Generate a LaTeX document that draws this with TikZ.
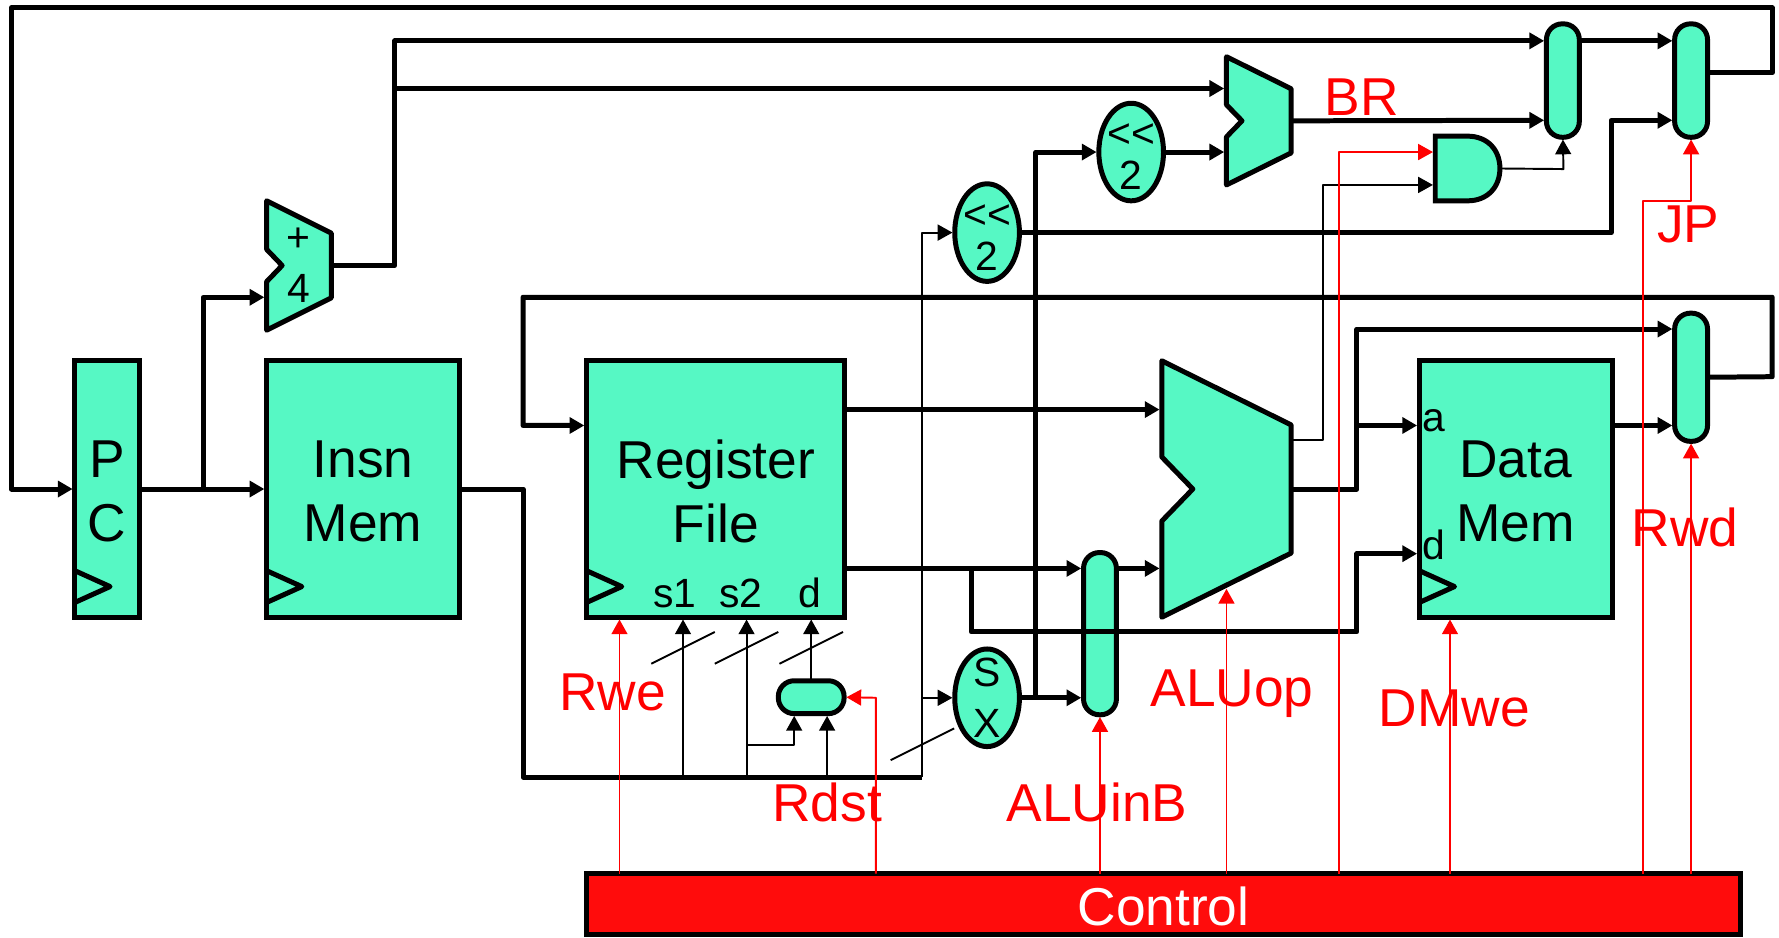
\documentclass[tikz,border=0pt]{standalone}
\usepackage{xcolor}
\usepackage{fontspec}
\setmainfont{Liberation Sans}
\usetikzlibrary{arrows.meta, calc, shapes.geometric}
\definecolor{blockgreen}{HTML}{56F8C4}
\definecolor{ctrlred}{HTML}{FF0C0C}

\newcommand{\clocktick}[1]{\draw [outline, fill=none] (#1.south west) ++(0,-41) -- ++(31,14) -- ++(-31,14);}
\newcommand{\adderoutline}[1]{\draw [outline] (#1.north west) -- ($(#1.north east)!.25!(#1.south east)$) -- ($(#1.north east)!.75!(#1.south east)$) -- (#1.south west) -- ($(#1.north west)!.625!(#1.south west)$) -- ($(#1.west)!.24!(#1.east)$) -- ($(#1.north west)!.375!(#1.south west)$) -- cycle;}

\begin{document}
\begin{tikzpicture}[x=0.5pt, y=-0.5pt, >={Triangle[length=6.5pt,width=7pt]},
    outline/.style={line width=2.2pt, line join=round, fill=blockgreen},
    block/.style={draw, rectangle, outline, line join=miter, inner sep=0pt, outer sep=0pt},
    mux/.style={block, rounded corners=7pt},
    oval/.style={draw, ellipse, outline, inner sep=0pt, outer sep=0pt, minimum width=28.5pt, minimum height=43pt},
    holder/.style={rectangle, inner sep=0pt, outer sep=0pt},
    big/.style={inner sep=0pt, align=center, font=\fontsize{23.5}{28}\selectfont},
    small/.style={inner sep=0pt, align=center, font=\fontsize{18}{22.5}\selectfont},
    pin/.style={small, anchor=base},
    signal/.style={big, anchor=base, text=red},
    bus/.style={line width=2.2pt, line join=round},
    wire/.style={line width=0.85pt, line join=round},
    ctrl/.style={line width=0.85pt, draw=red, line join=round},
    into/.style={->, shorten >=1pt},
]
    \useasboundingbox (0,0) rectangle (1568,826);

    \node [block, minimum width=28.5pt, minimum height=113pt] (pc) at (94.5,431) {};
    \node [block, minimum width=85pt, minimum height=113pt] (imem) at (320,431) {};
    \node [block, minimum width=113.5pt, minimum height=113pt] (regfile) at (630.5,431) {};
    \node [block, minimum width=85pt, minimum height=113pt] (dmem) at (1336,431) {};
    \node [block, fill=ctrlred, minimum width=508.5pt, minimum height=27pt] (control) at (1025.5,797) {};
    \clocktick{pc}
    \clocktick{imem}
    \clocktick{regfile}
    \clocktick{dmem}
    \node [big] (pctext) at (94.5,433) {P\\C};
    \node [big] (imemtext) at (320,433) {Insn\\Mem};
    \node [big] (regfiletext) at (631,433) {Register\\File};
    \node [big] (dmemtext) at (1336,433) {Data\\Mem};
    \node [big, text=white] (controltext) at (1025.5,799) {Control};

    \node [holder, minimum width=28.5pt, minimum height=57pt] (adder) at (263.5,234) {};
    \node [holder, minimum width=28.5pt, minimum height=56.5pt] (bradder) at (1109.5,106.5) {};
    \node [holder, minimum width=57pt, minimum height=113pt] (alu) at (1081,431) {};
    \adderoutline{adder}
    \adderoutline{bradder}
    \adderoutline{alu}
    \node [small] (addertext) at (263,234) {+\\4};

    \node [oval] (jpshift) at (870,205) {};
    \node [oval] (brshift) at (997,134) {};
    \node [oval] (sx) at (870,615) {};
    \node [small] (jpshifttext) at (870,209) {{<}{<}\\[-4pt]2};
    \node [small] (brshifttext) at (997,138) {{<}{<}\\[-4pt]2};
    \node [small] (sxtext) at (870,615) {S\\X};

    \node [mux, minimum width=14.5pt, minimum height=50pt] (brmux) at (1377.5,71) {};
    \node [mux, minimum width=14.5pt, minimum height=50pt] (jpmux) at (1490.5,71) {};
    \node [mux, minimum width=14.5pt, minimum height=56.5pt] (wbmux) at (1490.5,332.5) {};
    \node [mux, minimum width=14.5pt, minimum height=71.5pt] (alumux) at (969.5,558.5) {};
    \node [mux, minimum width=29pt, minimum height=14.5pt] (rdstmux) at (715,614.5) {};

    \node [holder, minimum width=28.5pt, minimum height=28.5pt] (brand) at (1293.5,148.5) {};
    \draw [outline, line join=miter] (brand.south west) -- (brand.north west) -- (brand.north) .. controls (1311,120) and (1322,132) .. (brand.east) .. controls (1322,165) and (1311,177) .. (brand.south) -- cycle;

    \node [pin] (s1pin) at (595,535) {s1};
    \node [pin] (s2pin) at (653,535) {s2};
    \node [pin] (dpin) at (714,535) {d};
    \node [pin] (apin) at (1264,380) {a};
    \node [pin] (ddpin) at (1264,493) {d};

    \node [signal] (rwe) at (540,626) {Rwe};
    \node [signal] (rdst) at (729,724) {Rdst};
    \node [signal] (aluinb) at (967,724) {ALUinB};
    \node [signal] (aluop) at (1086,623) {ALUop};
    \node [signal] (dmwe) at (1282,640) {DMwe};
    \node [signal] (rwd) at (1485,482) {Rwd};
    \node [signal] (jp) at (1488,214) {JP};
    \node [signal] (br) at (1200,102) {BR};

    \draw [bus, into] (jpmux.east |- 0,64) -- (1562,64) -- (1562,7) -- (10,7) -- (10,431) -- (pc.west);
    \draw [bus, into] (pc.east) -- (imem.west);
    \draw [bus, into] (179,431) -- (179,262) -- (adder.west |- 0,262);
    \draw [bus, into] (adder.east) -- (348,234) -- (348,36) -- (brmux.west |- 0,36);
    \draw [bus, into] (348,78) -- (bradder.west |- 0,78);
    \draw [bus, into] (brmux.east |- 0,36) -- (jpmux.west |- 0,36);
    \draw [bus, into] (bradder.east) -- (brmux.west |- 0,106);
    \draw [bus, into] (jpshift.east) -- (1420,205) -- (1420,106) -- (jpmux.west |- 0,106);
    \draw [bus, into] (brshift.east) -- (bradder.west |- 0,134);
    \draw [bus, into] (913,615) -- (913,134) -- (brshift.west);
    \draw [bus] (imem.east) -- (461,431) -- (461,685) -- (813,685);
    \draw [bus, into] (wbmux.east) -- (1562,332) -- (1562,262) -- (461,262) -- (461,375) -- (regfile.west |- 0,375);
    \draw [bus, into] (regfile.east |- 0,361) -- (alu.west |- 0,361);
    \draw [bus, into] (regfile.east |- 0,501) -- (alumux.west |- 0,501);
    \draw [bus, into] (856,501) -- (856,557) -- (1196,557) -- (1196,488) -- (dmem.west |- 0,488);
    \draw [bus, into] (sx.east) -- (alumux.west |- 0,615);
    \draw [bus, into] (alumux.east |- 0,501) -- (alu.west |- 0,501);
    \draw [bus, into] (alu.east) -- (1196,431) -- (1196,290) -- (wbmux.west |- 0,290);
    \draw [bus, into] (1196,375) -- (dmem.west |- 0,375);
    \draw [bus, into] (dmem.east |- 0,375) -- (wbmux.west |- 0,375);

    \draw [wire, into] (813,685) -- (813,205) -- (jpshift.west);
    \draw [wire, into] (813,615) -- (sx.west);
    \draw [wire, into] (602,685) -- (regfile.south -| 602,0);
    \draw [wire, into] (658,685) -- (regfile.south -| 658,0);
    \draw [wire, into] (658,657) -- (700,657) -- (rdstmux.south -| 700,0);
    \draw [wire, into] (729,685) -- (rdstmux.south -| 729,0);
    \draw [wire, into] (rdstmux.north) -- (regfile.south -| rdstmux.north);
    \draw [wire, into] (brand.east) -- (1378,149) -- (brmux.south);
    \draw [wire, into] (alu.east |- 0,388) -- (1166,388) -- (1166,163) -- (brand.west |- 0,163);
    \draw [wire] (574,585) -- (630,557);
    \draw [wire] (630,585) -- (686,557);
    \draw [wire] (687,585) -- (743,557);
    \draw [wire] (785,670) -- (841,642);

    \draw [ctrl, into] (control.north -| 546,0) -- (regfile.south -| 546,0);
    \draw [ctrl, into] (control.north -| 772,0) -- (772,615) -- (rdstmux.east);
    \draw [ctrl, into] (control.north -| alumux.south) -- (alumux.south);
    \draw [ctrl, into] (control.north -| 1081,0) -- (1081,517);
    \draw [ctrl, into] (control.north -| 1180,0) -- (1180,134) -- (brand.west |- 0,134);
    \draw [ctrl, into] (control.north -| 1278,0) -- (dmem.south -| 1278,0);
    \draw [ctrl, into] (control.north -| 1448,0) -- (1448,177) -- (1490.5,177) -- (jpmux.south);
    \draw [ctrl, into] (control.north -| wbmux.south) -- (wbmux.south);
\end{tikzpicture}
\end{document}
